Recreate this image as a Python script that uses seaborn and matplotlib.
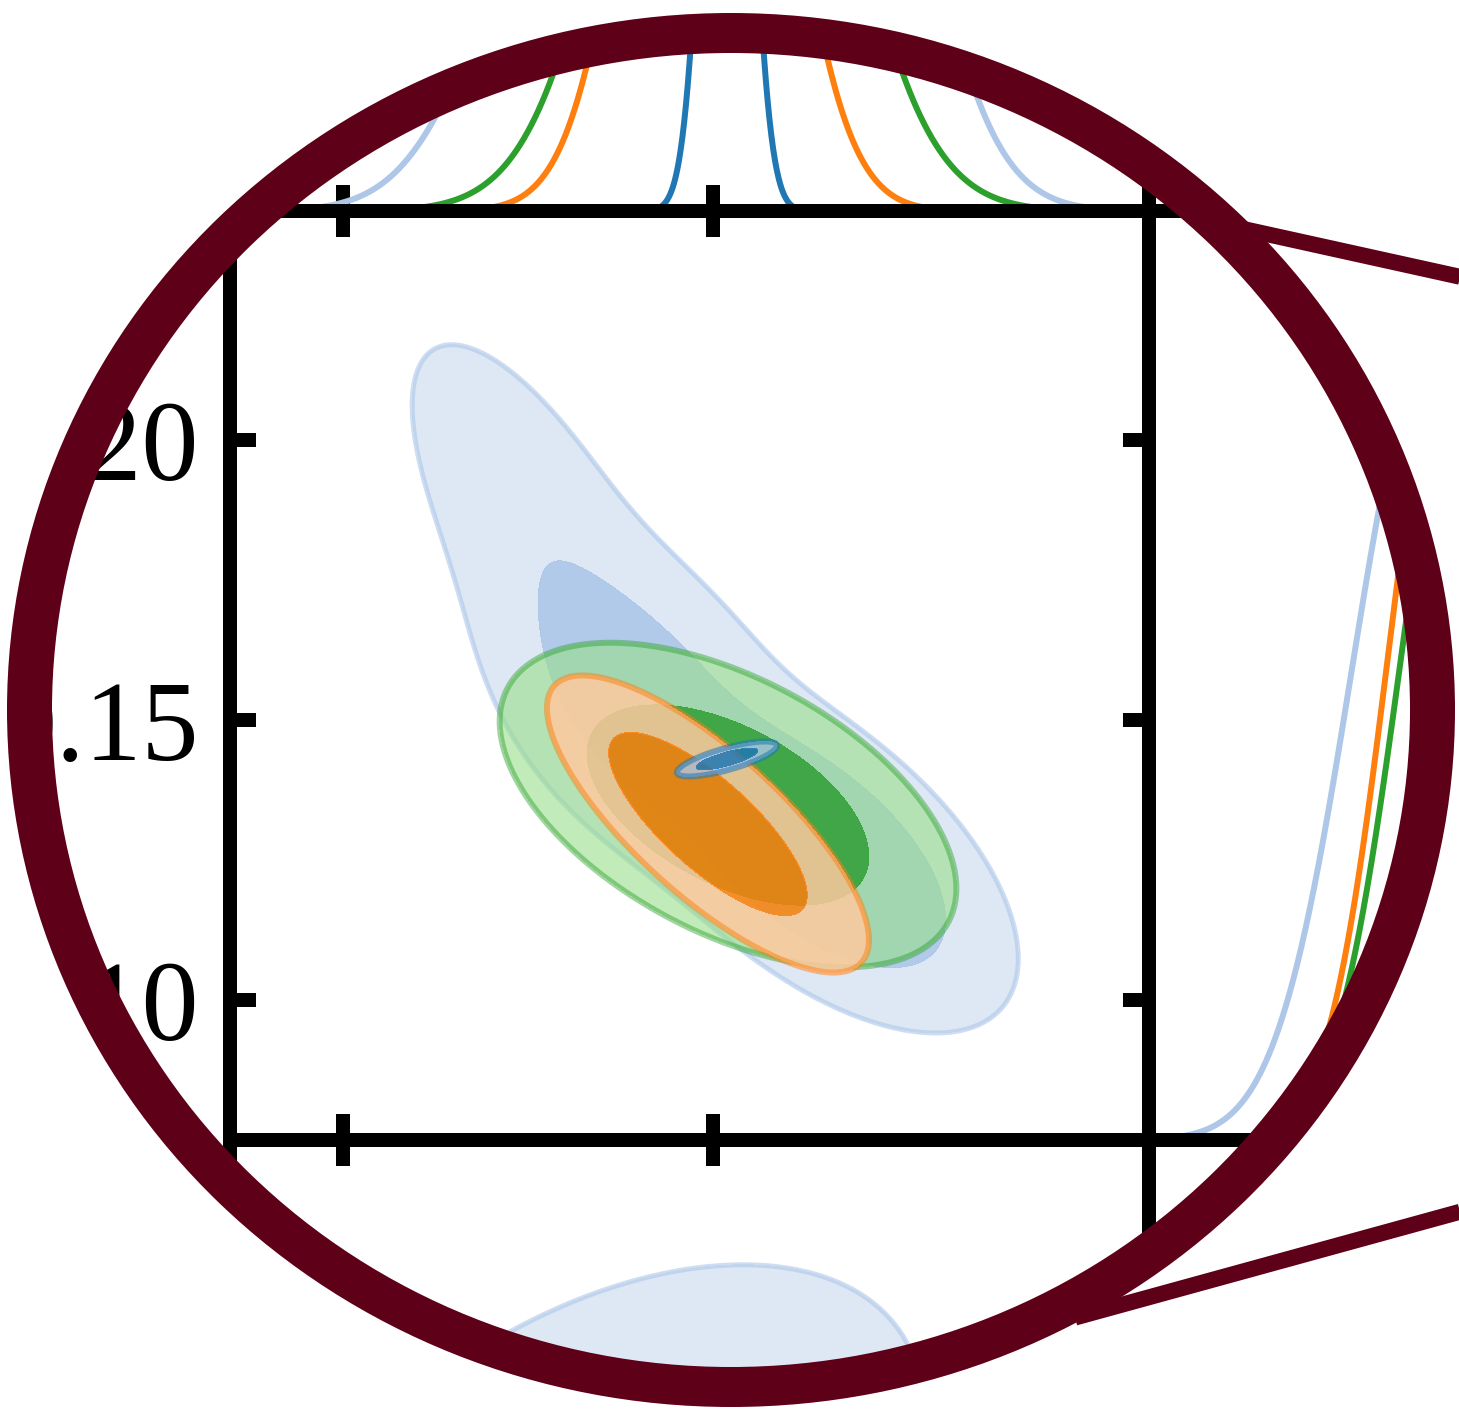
import numpy as np
import matplotlib
matplotlib.use("Agg")
import matplotlib.pyplot as plt
import seaborn as sns
from matplotlib.path import Path
from matplotlib.patches import PathPatch
from matplotlib.lines import Line2D

# ------------------------------------------------------------------ data
# Gaussian-mixture summaries of each chain in the (p1, p2) plane:
# (weight, mean p1, mean p2, sd p1, sd p2, correlation)
p1p2_blue = [(1.0, 0.30189, 0.14304, 0.002764, 0.001277, 0.76)]
p1p2_light = [(0.57, 0.31378, 0.12679, 0.011230, 0.013357, -0.594),
              (0.27, 0.29014, 0.15357, 0.009851, 0.014000, -0.408),
              (0.16, 0.27730, 0.18071, 0.010635, 0.021518, -0.703)]
p1p2_orange = [(1.0, 0.29932, 0.13143, 0.00889, 0.01084, -0.78)]
p1p2_green = [(1.0, 0.30203, 0.13482, 0.012608, 0.011839, -0.515)]

# the same chains in the (p1, p3) plane
p1p3_blue = [(1.0, 0.30189, 0.820, 0.002764, 0.0040, 0.30)]
p1p3_light = [(1.0, 0.28338, 0.8379, 0.018378, 0.0592, 0.46)]
p1p3_orange = [(1.0, 0.29932, 0.800, 0.00889, 0.0300, 0.20)]
p1p3_green = [(1.0, 0.30203, 0.790, 0.01253, 0.0350, 0.10)]

p1_ticks = [0.25, 0.30]
p2_ticks = [0.10, 0.15, 0.20]
p2_tick_labels = ["0.10", "0.15", "0.20"]
p3_ticks = [0.7, 0.8, 0.9, 1.0]

p1_range = (0.23473, 0.35892)
p2_range = (0.075, 0.24089)
p2_diag_range = (0.0775, 0.24339)
p3_range = (0.55, 1.05)
diag_top = 1.17

# ------------------------------------------------------------------ style
chain_order = ["light", "green", "orange", "blue"]
p1p2 = {"blue": p1p2_blue, "light": p1p2_light, "orange": p1p2_orange, "green": p1p2_green}
p1p3 = {"blue": p1p3_blue, "light": p1p3_light, "orange": p1p3_orange, "green": p1p3_green}

line_colors = {"blue": "#1f77b4", "light": "#aec7e8", "orange": "#ff7f0e", "green": "#2ca02c"}
outer_colors = {"blue": "#aec7e8", "light": "#aec7e8", "orange": "#ffc99f", "green": "#98df8a"}
outer_alpha = {"blue": 0.80, "light": 0.40, "orange": 0.85, "green": 0.60}
inner_alpha = {"blue": 0.85, "light": 0.95, "orange": 0.84, "green": 0.85}
edge_alpha = {"blue": 0.55, "light": 0.60, "orange": 0.50, "green": 0.45}
edge_width = {"blue": 4.3, "light": 3.6, "orange": 4.3, "green": 4.3}

ring_color = "#5f0019"
SPINE_W = 10.08
TICK_LEN = 18.7
LINE_W = 4.3

sns.set_theme(style="white")
plt.rcParams["font.family"] = ["Liberation Serif", "DejaVu Serif"]

W, H = 1459, 1412
fig = plt.figure(figsize=(W / 100, H / 100), dpi=100, facecolor="white")


def px_axes(left, top, right, bottom):
    ax = fig.add_axes([left / W, 1 - bottom / H, (right - left) / W, (bottom - top) / H])
    ax.set_facecolor("none")
    for sp in ax.spines.values():
        sp.set_linewidth(SPINE_W)
        sp.set_color("black")
        sp.set_visible(True)
    ax.tick_params(direction="in", length=TICK_LEN, width=SPINE_W, color="black",
                   labelcolor="black",
                   bottom=False, top=False, left=False, right=False,
                   labelbottom=False, labelleft=False)
    return ax


L, R, T, B = 230, 1149, 211, 1140
pw, ph = R - L, B - T
ax_main = px_axes(L, T, R, B)
ax_top = px_axes(L, T - ph, R, T)
ax_right = px_axes(R, T, R + pw, B)
ax_low = px_axes(L, B, R, B + ph)
ax_lowr = px_axes(R, B, R + pw, B + ph)


def mixture_density(comps, gx, gy):
    Z = np.zeros_like(gx)
    for w, mx, my, sx, sy, r in comps:
        dx = (gx - mx) / sx
        dy = (gy - my) / sy
        q = (dx * dx - 2 * r * dx * dy + dy * dy) / (1 - r * r)
        Z += w * np.exp(-0.5 * q) / (2 * np.pi * sx * sy * np.sqrt(1 - r * r))
    return Z


def density_grid(comps, n=600):
    a = np.array(comps)
    x0, x1 = (a[:, 1] - 6.5 * a[:, 3]).min(), (a[:, 1] + 6.5 * a[:, 3]).max()
    y0, y1 = (a[:, 2] - 6.5 * a[:, 4]).min(), (a[:, 2] + 6.5 * a[:, 4]).max()
    gx, gy = np.meshgrid(np.linspace(x0, x1, n), np.linspace(y0, y1, n))
    return gx, gy, mixture_density(comps, gx, gy)


def credible_levels(Z, masses=(0.95, 0.68)):
    z = np.sort(Z.ravel())[::-1]
    c = np.cumsum(z)
    c /= c[-1]
    return [z[min(np.searchsorted(c, m), z.size - 1)] for m in masses]


def marginal(comps, grid, axis):
    out = np.zeros_like(grid)
    for w, mx, my, sx, sy, r in comps:
        m, s = (mx, sx) if axis == 0 else (my, sy)
        out += w * np.exp(-0.5 * ((grid - m) / s) ** 2) / s
    return out / out.max()


def draw_contours(ax, comps, key, rank):
    gx, gy, Z = density_grid(comps)
    l95, l68 = credible_levels(Z)
    top = Z.max() * 1.01
    z0 = 1.0 + 0.3 * rank
    # 95% band and 68% core as separate, non-overlapping fills
    ax.contourf(gx, gy, Z, levels=[l95, l68], colors=[outer_colors[key]],
                alpha=outer_alpha[key], zorder=z0)
    ax.contourf(gx, gy, Z, levels=[l68, top], colors=[line_colors[key]],
                alpha=inner_alpha[key], zorder=z0 + 0.1)
    ax.contour(gx, gy, Z, levels=[l95], colors=[line_colors[key]],
               linewidths=edge_width[key], alpha=edge_alpha[key], zorder=z0 + 0.2)


# ---- 2D panels
for rank, key in enumerate(chain_order):
    draw_contours(ax_main, p1p2[key], key, rank)
    draw_contours(ax_low, p1p3[key], key, rank)

ax_main.set_xlim(*p1_range)
ax_main.set_ylim(*p2_range)
ax_main.set_xticks(p1_ticks)
ax_main.set_yticks(p2_ticks)
ax_main.set_yticklabels(p2_tick_labels)
ax_main.tick_params(bottom=True, top=True, left=True, right=True,
                    labelleft=True, labelsize=82, pad=22)

ax_low.set_xlim(*p1_range)
ax_low.set_ylim(*p3_range)
ax_low.set_xticks(p1_ticks)
ax_low.set_yticks(p3_ticks)
ax_low.tick_params(top=True, bottom=True, left=True)

# ---- 1D marginals
xs = np.linspace(p1_range[0], p1_range[1], 1500)
ys = np.linspace(p2_diag_range[0], p2_diag_range[1], 1500)
for key in ["blue", "orange", "green", "light"]:
    sns.lineplot(x=xs, y=marginal(p1p2[key], xs, 0), ax=ax_top, color=line_colors[key],
                 linewidth=LINE_W, estimator=None, errorbar=None)
    sns.lineplot(x=ys, y=marginal(p1p2[key], ys, 1), ax=ax_right, color=line_colors[key],
                 linewidth=LINE_W, estimator=None, errorbar=None)

ax_top.set_xlim(*p1_range)
ax_top.set_ylim(0, diag_top)
ax_top.set_xticks(p1_ticks)
ax_top.set_yticks([])
ax_top.tick_params(bottom=True)

ax_right.set_xlim(*p2_diag_range)
ax_right.set_ylim(0, diag_top)
ax_right.set_xticks([])
ax_right.set_yticks([])

ax_lowr.set_xlim(*p2_diag_range)
ax_lowr.set_ylim(*p3_range)
ax_lowr.set_xticks([])
ax_lowr.set_yticks([])

for ax in (ax_main, ax_top, ax_right, ax_low, ax_lowr):
    ax.set_xlabel("")
    ax.set_ylabel("")

# ---- magnifier: white surround, connector lines and the lens rim
cx, cy = 731 / W, 1 - 710 / H
circ = Path.unit_circle()


def ellipse_verts(ax_px, ay_px, flip=False):
    sx = -ax_px / W if flip else ax_px / W
    return circ.vertices * [sx, ay_px / H] + [cx, cy]


rect_v = np.array([(-0.1, -0.1), (-0.1, 1.1), (1.1, 1.1), (1.1, -0.1), (-0.1, -0.1)])
rect_c = [Path.MOVETO, Path.LINETO, Path.LINETO, Path.LINETO, Path.CLOSEPOLY]
surround = Path(np.concatenate([rect_v, ellipse_verts(701.5, 677)]),
                np.concatenate([rect_c, circ.codes]))
fig.add_artist(PathPatch(surround, facecolor="white", edgecolor="none",
                         transform=fig.transFigure, zorder=1))

for (x0, y0), (x1, y1) in [((1230, 226), (1470, 279)), ((1075, 1317.6), (1470, 1209))]:
    fig.add_artist(Line2D([x0 / W, x1 / W], [1 - y0 / H, 1 - y1 / H], color=ring_color,
                          linewidth=11.5, solid_capstyle="butt",
                          transform=fig.transFigure, zorder=2))

rim = Path(np.concatenate([ellipse_verts(724, 697), ellipse_verts(679, 657, flip=True)]),
           np.concatenate([circ.codes, circ.codes]))
fig.add_artist(PathPatch(rim, facecolor=ring_color, edgecolor="none",
                         transform=fig.transFigure, zorder=3))

fig.savefig("out.png", dpi=100, facecolor="white")
